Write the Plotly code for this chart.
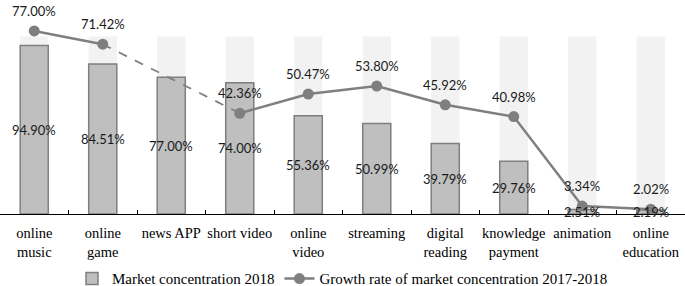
import plotly.graph_objects as go

categories = ["online music", "online game", "news APP", "short video", "online video",
              "streaming", "digital reading", "knowledge payment", "animation", "online education"]
tick_labels = ["online<br>music", "online<br>game", "news APP", "short video", "online<br>video",
               "streaming", "digital<br>reading", "knowledge<br>payment", "animation", "online<br>education"]
concentration_2018 = [94.90, 84.51, 77.00, 74.00, 55.36, 50.99, 39.79, 29.76, 2.51, 2.19]
growth_rate = [77.00, 71.42, None, 42.36, 50.47, 53.80, 45.92, 40.98, 3.34, 2.02]
background = [100, 100, 100, 100, 100, 100, 100, 100, 100, 100]

LABEL_FONT = dict(family="Lato", size=13, color="#1a1a1a")
SERIF = "Liberation Serif, Times New Roman, serif"

fig = go.Figure()

fig.add_trace(go.Bar(x=categories, y=background, marker=dict(color="#f2f2f2", line=dict(width=0)),
                     width=0.41, showlegend=False, hoverinfo="skip"))
fig.add_trace(go.Bar(x=categories, y=concentration_2018, name="Market concentration 2018",
                     marker=dict(color="#bfbfbf", line=dict(color="#7f7f7f", width=1.5)),
                     width=0.41))

# dashed connector across the missing value
gi = [i for i, v in enumerate(growth_rate) if v is None][0]
fig.add_trace(go.Scatter(x=[categories[gi - 1], categories[gi + 1]],
                         y=[growth_rate[gi - 1], growth_rate[gi + 1]], yaxis="y2",
                         mode="lines", line=dict(color="#7f7f7f", width=1.8, dash="dash"),
                         showlegend=False, hoverinfo="skip"))
fig.add_trace(go.Scatter(x=categories, y=growth_rate, yaxis="y2", mode="lines+markers",
                         name="Growth rate of market concentration 2017-2018",
                         line=dict(color="#7f7f7f", width=2.5), connectgaps=False,
                         marker=dict(color="#7f7f7f", size=11)))

annotations = []
for c, v in zip(categories, concentration_2018):
    annotations.append(dict(x=c, y=v / 2, xref="x", yref="y", text=f"{v:.2f}%", showarrow=False,
                            font=LABEL_FONT))
for c, v in zip(categories, growth_rate):
    if v is None:
        continue
    annotations.append(dict(x=c, y=v, xref="x", yref="y2", text=f"{v:.2f}%", showarrow=False,
                            yshift=20, font=LABEL_FONT))

fig.update_layout(
    width=685, height=286,
    margin=dict(l=0, r=0, t=0, b=72, autoexpand=False),
    paper_bgcolor="white", plot_bgcolor="white",
    barmode="overlay",
    annotations=annotations,
    xaxis=dict(type="category", tickmode="array", tickvals=categories, ticktext=tick_labels,
               range=[-0.5, 9.5], showline=True, linecolor="black", linewidth=1,
               ticks="inside", tickson="boundaries", ticklen=4, tickcolor="black",
               tickangle=0, automargin=False, ticklabelstandoff=6,
               tickfont=dict(family=SERIF, size=14.5, color="black"), showgrid=False),
    yaxis=dict(range=[0, 120.6], visible=False, showgrid=False),
    yaxis2=dict(range=[0, 90], overlaying="y", visible=False, showgrid=False),
    legend=dict(orientation="h", x=0.5, xanchor="center", yref="container", y=0.025,
                yanchor="middle", font=dict(family=SERIF, size=15, color="black"),
                itemwidth=30, traceorder="normal"),
    showlegend=True,
)

fig.write_html("out.html", config={"displayModeBar": False},
               post_script="document.body.style.margin='0px';document.body.style.overflow='hidden';")
